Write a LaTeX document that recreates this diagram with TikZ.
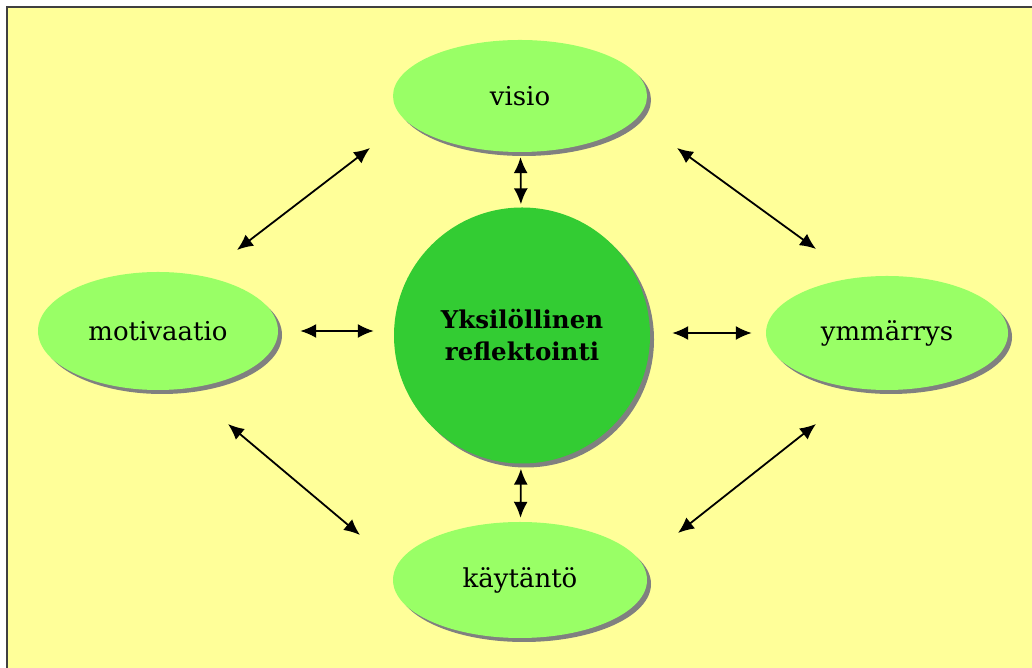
\documentclass[tikz,border=0pt]{standalone}
\usepackage{fontspec}
\setmainfont{DejaVu Serif}
\usetikzlibrary{shapes.geometric,shadows,arrows.meta}
\definecolor{paleyellow}{HTML}{FFFF99}
\definecolor{lightgreen}{HTML}{99FF66}
\definecolor{darkgreen}{HTML}{33CC33}
\definecolor{shadowgray}{HTML}{808080}
\tikzset{
  flatshadow/.style={drop shadow={shadow xshift=4pt, shadow yshift=-4pt, fill=shadowgray, opacity=1}},
  aspect/.style={ellipse, fill=lightgreen, inner sep=0pt, flatshadow,
    font=\fontsize{26}{30}\selectfont},
  core/.style={circle, fill=darkgreen, minimum size=256pt, align=center, flatshadow,
    font=\bfseries\fontsize{24.5}{32}\selectfont},
  twoway/.style={{Latex[length=16pt,width=14pt]}-{Latex[length=16pt,width=14pt]}, line width=1.8pt},
}
\begin{document}
\begin{tikzpicture}[x=1pt,y=1pt]
\useasboundingbox (0,0) rectangle (1032,668);
\fill[paleyellow] (7,0) rectangle (1032,660.5);
\draw[line width=2pt, black!75] (6.5,0) -- (6.5,660.5) -- (1032,660.5);

\node[core] (refl) at (522,332.5) {Yksilöllinen\\reflektointi};
\node[aspect, minimum width=254pt, minimum height=112pt] (visio) at (520,572) {visio};
\node[aspect, minimum width=254pt, minimum height=116pt] (kaytanto) at (520,88) {käytäntö};
\node[aspect, minimum width=240pt, minimum height=118pt] (motiv) at (158,337) {motivaatio};
\node[aspect, minimum width=242pt, minimum height=114pt] (ymmar) at (887,335) {ymmärrys};

% arrow ends
\coordinate (tl1) at (237,418);
\coordinate (tl2) at (370,520);
\coordinate (tr1) at (677,520);
\coordinate (tr2) at (816,419);
\coordinate (bl1) at (228,244);
\coordinate (bl2) at (360,133);
\coordinate (br1) at (678,135);
\coordinate (br2) at (816,244);

\draw[twoway, shorten <=5pt, shorten >=3pt] (visio) -- (refl);
\draw[twoway, shorten <=5pt, shorten >=4pt] (refl) -- (kaytanto);
\draw[twoway, shorten <=22pt, shorten >=20pt] (motiv.east) -- (motiv.east -| refl.west);
\draw[twoway, shorten <=22pt, shorten >=14pt] (ymmar.west -| refl.east) -- (ymmar.west);
\foreach \a/\b in {tl1/tl2, tr1/tr2, bl1/bl2, br1/br2}
    \draw[twoway] (\a) -- (\b);
%
\end{tikzpicture}
\end{document}
